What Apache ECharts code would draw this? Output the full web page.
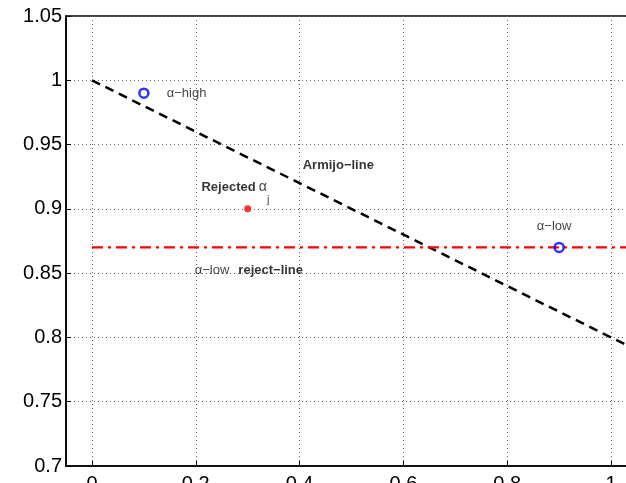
<!DOCTYPE html>
<html>
<head>
<meta charset="utf-8">
<script src="https://cdn.jsdelivr.net/npm/echarts@6/dist/echarts.min.js"></script>
<style>html,body{margin:0;padding:0;background:#fff;}#c{width:626px;height:483px;}</style>
</head>
<body>
<div id="c"></div>
<script>
// ---- data ----
const xTicks = [0, 0.2, 0.4, 0.6, 0.8, 1];
const yTicks = [0.7, 0.75, 0.8, 0.85, 0.9, 0.95, 1, 1.05];
const armijoX = [0, 1.05];
const armijoY = [1, 0.79];
const rejectX = [0, 1.05];
const rejectY = [0.87, 0.87];
const blueX = [0.1, 0.9];
const blueY = [0.99, 0.87];
const redX = [0.3];
const redY = [0.9];
const noteX = [0.144, 0.406, 0.211, 0.337, 0.857, 0.198];
const noteY = [0.990, 0.934, 0.917, 0.907, 0.886, 0.852];
const noteText = [
  '{n|α−high}',
  '{b|Rejected}',
  '{b|Rejected}{g2|}{a|α}',
  '{s|j}',
  '{n|α−low}',
  '{n|α−low}{g|}{b|reject−line}'
];
noteText[1] = '{b|Armijo−line}';

const zip = (xs, ys) => xs.map((x, i) => [x, ys[i]]);
const FONT = '"Liberation Sans", Arial, Helvetica, sans-serif';

const chart = echarts.init(document.getElementById('c'), null, {renderer: 'canvas'});
chart.setOption({
  animation: false,
  backgroundColor: '#fff',
  grid: {left: 66, top: 16, right: -11, bottom: 17, outerBoundsMode: 'none', containLabel: false,
    show: true, borderColor: '#000', borderWidth: 1.5, backgroundColor: 'transparent'},
  xAxis: {
    type: 'value', min: -0.05, max: 1.05,
    axisLine: {show: true, onZero: false, lineStyle: {color: '#000', width: 1.5}},
    axisTick: {show: true, inside: true, length: 5, customValues: xTicks, lineStyle: {color: '#000', width: 1}},
    axisLabel: {customValues: xTicks, color: '#000', fontSize: 20, fontFamily: FONT, margin: 8,
      formatter: v => String(+v.toFixed(2))},
    splitLine: {show: true, lineStyle: {color: '#666', type: [1, 3], width: 1}}
  },
  yAxis: {
    type: 'value', min: 0.7, max: 1.05,
    axisLine: {show: true, onZero: false, lineStyle: {color: '#000', width: 1.5}},
    axisTick: {show: true, inside: true, length: 5, customValues: yTicks, lineStyle: {color: '#000', width: 1}},
    axisLabel: {customValues: yTicks, color: '#000', fontSize: 20, fontFamily: FONT, margin: 4,
      formatter: v => String(+v.toFixed(2))},
    splitLine: {show: true, lineStyle: {color: '#666', type: [1, 3], width: 1}}
  },
  series: [
    {
      type: 'line', data: zip(armijoX, armijoY), symbol: 'none', z: 3,
      lineStyle: {color: '#000', width: 2.5, type: [9, 6]}
    },
    {
      type: 'line', data: zip(rejectX, rejectY), symbol: 'none', z: 3,
      lineStyle: {color: '#ff0000', width: 2.2, type: [11, 5, 3, 5]}
    },
    {
      type: 'scatter', data: zip(blueX, blueY), symbol: 'circle', symbolSize: 9, z: 5,
      itemStyle: {color: 'transparent', borderColor: '#0000ff', borderWidth: 2.5}
    },
    {
      type: 'scatter', data: zip(redX, redY), symbol: 'circle', symbolSize: 7, z: 5,
      itemStyle: {color: '#ff0000'}
    },
    {
      type: 'scatter', symbolSize: 0, z: 6, silent: true,
      data: noteX.map((x, i) => ({value: [x, noteY[i]], label: {formatter: noteText[i]}})),
      label: {
        show: true, position: [0, 0], align: 'left', verticalAlign: 'middle',
        fontFamily: FONT,
        rich: {
          n: {fontSize: 13, color: '#111', fontFamily: FONT},
          b: {fontSize: 13, color: '#000', fontWeight: 'bold', fontFamily: FONT},
          a: {fontSize: 14, color: '#111', fontFamily: FONT},
          s: {fontSize: 11, color: '#111', fontFamily: FONT},
          g: {width: 9},
          g2: {width: 3}
        }
      }
    }
  ]
});
</script>
</body>
</html>
